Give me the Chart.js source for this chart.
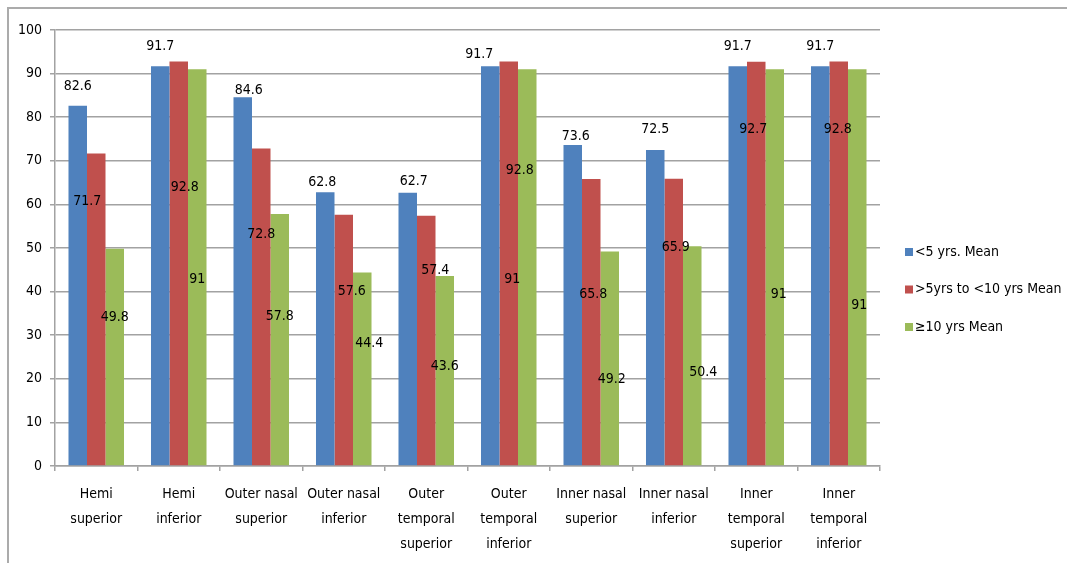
<!DOCTYPE html>
<html>
<head>
<meta charset="utf-8">
<script src="https://cdn.jsdelivr.net/npm/chart.js@4/dist/chart.umd.min.js"></script>
<style>
  html, body { margin: 0; padding: 0; background: #fff; }
  #wrap { width: 1067px; height: 566px; position: relative; }
</style>
</head>
<body>
<div id="wrap"><canvas id="c" width="1067" height="566"></canvas></div>
<script>
// Retinal regions (multi-line axis labels)
const categories = [
  ['Hemi', 'superior'],
  ['Hemi', 'inferior'],
  ['Outer nasal', 'superior'],
  ['Outer nasal', 'inferior'],
  ['Outer', 'temporal', 'superior'],
  ['Outer', 'temporal', 'inferior'],
  ['Inner nasal', 'superior'],
  ['Inner nasal', 'inferior'],
  ['Inner', 'temporal', 'superior'],
  ['Inner', 'temporal', 'inferior']
];

const seriesNames = ['<5 yrs. Mean', '>5yrs to <10 yrs Mean', '\u226510 yrs Mean'];

// Mean values per duration group
const under5Mean   = [82.6, 91.7, 84.6, 62.8, 62.7, 91.7, 73.6, 72.5, 91.7, 91.7];
const from5to10    = [71.7, 92.8, 72.8, 57.6, 57.4, 92.8, 65.8, 65.9, 92.7, 92.8];
const over10Mean   = [49.8, 91.0, 57.8, 44.4, 43.6, 91.0, 49.2, 50.4, 91.0, 91.0];

// Value axis
const yMin = 0, yMax = 100, yStep = 10;

// Where each value label sits: height on the value axis ...
const labelHeightUnder5 = [87.1, 96.2, 86.1, 65.0, 65.2, 94.3, 75.5, 77.1, 96.2, 96.2];
const labelHeight5to10  = [60.8, 63.9, 53.2, 40.0, 44.8, 67.9, 39.4, 50.2, 77.1, 77.1];
const labelHeightOver10 = [34.1, 42.7, 34.4, 28.1, 22.9, 42.8, 19.9, 21.4, 39.4, 36.9];
// ... and its sideways shift from the bar centre, in pixels
const labelShiftUnder5 = [0, 0, 6, -3, 6, -11, 3, 0, 0, 0];
const labelShift5to10  = [-9, 6, 0, 8, 9, 11, 2, 2, -3, -1];
const labelShiftOver10 = [0, 0, 0, 7, 0, -15, 2, 11, 4, 2];

const FONT = "'DejaVu Sans Condensed', 'Liberation Sans Narrow', 'DejaVu Sans', sans-serif";
const GRID = '#a2a2a2';
const colors = ['#4F81BD', '#C0504D', '#9BBB59'];

const labelHeights = [labelHeightUnder5, labelHeight5to10, labelHeightOver10];
const labelShifts = [labelShiftUnder5, labelShift5to10, labelShiftOver10];

// White page with the thin frame on the top and left edges
const framePlugin = {
  id: 'frame',
  beforeDraw(chart) {
    const ctx = chart.ctx;
    ctx.save();
    ctx.fillStyle = '#fff';
    ctx.fillRect(0, 0, chart.width, chart.height);
    ctx.strokeStyle = '#ababab';
    ctx.lineWidth = 2;
    ctx.beginPath();
    ctx.moveTo(8, 563);
    ctx.lineTo(8, 8);
    ctx.lineTo(chart.width, 8);
    ctx.stroke();
    ctx.restore();
  }
};

// Value labels placed per bar
const valueLabelPlugin = {
  id: 'valueLabels',
  afterDatasetsDraw(chart) {
    const ctx = chart.ctx;
    const yScale = chart.scales.y;
    ctx.save();
    ctx.font = '14px ' + FONT;
    ctx.fillStyle = '#000';
    ctx.textAlign = 'center';
    ctx.textBaseline = 'middle';
    chart.data.datasets.forEach((ds, i) => {
      const meta = chart.getDatasetMeta(i);
      meta.data.forEach((bar, j) => {
        const x = bar.x + labelShifts[i][j];
        const y = yScale.getPixelForValue(labelHeights[i][j]);
        ctx.fillText(String(ds.data[j]), x, y);
      });
    });
    ctx.restore();
  }
};

// Legend on the right, beside the plot
const sideLegendPlugin = {
  id: 'sideLegend',
  afterDraw(chart) {
    const ctx = chart.ctx;
    const x0 = chart.chartArea.right + 25;
    const yFirst = 252, gap = 37.5;
    ctx.save();
    ctx.font = '14px ' + FONT;
    ctx.textAlign = 'left';
    ctx.textBaseline = 'middle';
    chart.data.datasets.forEach((ds, i) => {
      const y = yFirst + i * gap;
      ctx.fillStyle = ds.backgroundColor;
      ctx.fillRect(x0, y - 4, 8, 8);
      ctx.fillStyle = '#000';
      ctx.fillText(ds.label, x0 + 10, y);
    });
    ctx.restore();
  }
};

const seriesData = [under5Mean, from5to10, over10Mean];

new Chart(document.getElementById('c'), {
  type: 'bar',
  data: {
    labels: categories,
    datasets: seriesData.map((d, i) => ({
      label: seriesNames[i],
      data: d,
      backgroundColor: colors[i],
      borderWidth: 0,
      categoryPercentage: 0.673,
      barPercentage: 1.0
    }))
  },
  options: {
    responsive: false,
    animation: false,
    devicePixelRatio: 1,
    layout: { padding: { top: 30, right: 187, left: 0, bottom: 0 } },
    plugins: {
      legend: { display: false },
      tooltip: { enabled: false }
    },
    scales: {
      x: {
        grid: { offset: true, drawOnChartArea: false, drawTicks: true, tickLength: 5, color: GRID, lineWidth: 1.5 },
        border: { color: GRID, width: 1.5 },
        ticks: {
          color: '#000',
          font: { family: FONT, size: 14, lineHeight: 1.79 },
          padding: 11,
          maxRotation: 0,
          autoSkip: false
        },
        afterFit(scale) { scale.height = 100; }
      },
      y: {
        min: yMin,
        max: yMax,
        ticks: {
          stepSize: yStep,
          color: '#000',
          font: { family: FONT, size: 14 },
          padding: 8
        },
        grid: { color: GRID, lineWidth: 1.5, tickLength: 5 },
        border: { color: GRID, width: 1.5 },
        afterFit(scale) { scale.width = 55; }
      }
    }
  },
  plugins: [framePlugin, valueLabelPlugin, sideLegendPlugin]
});
</script>
</body>
</html>
